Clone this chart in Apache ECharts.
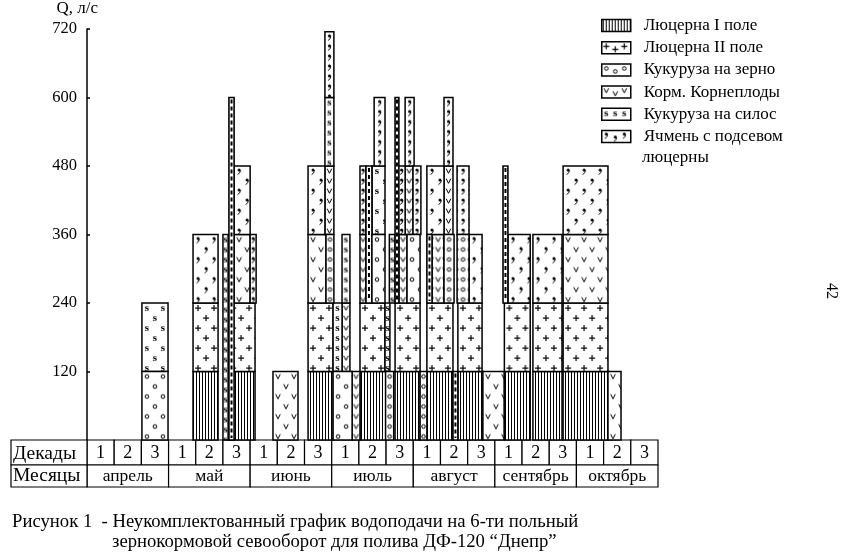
<!DOCTYPE html>
<html><head><meta charset="utf-8">
<script src="https://cdn.jsdelivr.net/npm/echarts@6/dist/echarts.min.js"></script>
<style>html,body{margin:0;padding:0;background:#fff}#c{width:849px;height:553px}</style>
</head><body><div id="c"></div>
<script>
const FONT = '"Liberation Serif","Times New Roman",serif';

// ---- data ----
const yMax = 720, yStep = 120;
const decadeLabels = ['1','2','3','1','2','3','1','2','3','1','2','3','1','2','3','1','2','3','1','2','3'];
const months = ['апрель','май','июнь','июль','август','сентябрь','октябрь'];
const headerLabels = ['Декады','Месяцы'];
const cropNames = ['Люцерна I поле','Люцерна II поле','Кукуруза на зерно','Корм. Корнеплоды','Кукуруза на силос','Ячмень с подсевом люцерны'];
const captionLine1 = 'Рисунок 1  - Неукомплектованный график водоподачи на 6-ти польный';
const captionLine2 = 'зернокормовой севооборот для полива ДФ-120 “Днепр”';
const pageNumber = '42';

// each item: [start (decade index), end (decade index), Q from, Q to]  (Q in l/s)
const lucerne1 = [[3.90,4.82,0,120],[5.19,6.18,0,120],[8.13,9.05,0,120],[10.04,11.0,0,120],[11.33,12.25,0,120],
  [12.50,13.46,0,120],[13.64,14.56,0,120],[15.35,16.30,0,120],[16.40,17.47,0,120],[17.51,19.16,0,120]];
const lucerne2 = [[3.90,4.82,120,240],[5.19,6.18,120,240],[8.13,9.05,120,240],[10.04,10.96,120,240],[11.33,12.25,120,240],
  [12.50,13.46,120,240],[13.64,14.53,120,240],[15.35,16.30,120,240],[16.40,17.47,120,240],[17.51,19.16,120,240]];
const cornGrain = [[2.02,2.98,0,120],[9.05,9.75,0,120],[10.98,11.28,0,120],[12.25,12.50,0,120],[13.46,13.64,0,120],
  [5.22,5.41,0,600],[8.79,9.08,240,360],[10.26,10.48,240,480],[10.48,10.96,240,360],[11.77,12.25,240,360],
  [11.33,11.47,240,600],[12.50,12.69,240,360],[13.13,13.50,240,360],[13.61,14.05,240,360],[15.30,15.48,240,480]];
const rootCrops = [[6.84,7.76,0,120],[9.75,10.04,0,120],[9.38,9.67,120,240],[5.41,6.0,240,360],[8.13,8.79,240,360],
  [8.75,9.08,360,480],[10.04,10.26,240,360],[11.47,11.77,240,360],[11.70,11.99,360,480],[12.69,13.13,240,360],
  [13.13,13.46,360,480],[14.56,15.34,0,120],[17.51,19.16,240,360],[19.16,19.64,0,120]];
const cornSilage = [[2.02,2.98,120,240],[5.0,5.19,0,360],[9.05,9.38,120,240],[9.38,9.67,240,360],[8.75,9.08,480,600],
  [10.48,10.96,360,480],[10.96,11.14,120,240],[11.12,11.33,240,360]];
const barley = [[3.90,4.82,240,360],[6.0,6.22,240,360],[5.41,6.0,360,480],[8.13,8.75,360,480],[8.75,9.08,600,715],
  [10.04,10.26,360,480],[10.56,10.96,480,600],[11.44,11.70,360,480],[11.70,12.03,480,600],[11.99,12.28,360,480],
  [12.50,13.13,360,480],[13.13,13.46,480,600],[13.61,14.05,360,480],[14.05,14.53,240,360],[15.48,16.30,240,360],
  [16.40,17.47,240,360],[17.51,19.16,360,480]];

// ---- hatch tiles ----
function tile(w, h, draw) {
  const c = document.createElement('canvas'); c.width = w; c.height = h;
  const g = c.getContext('2d');
  g.fillStyle = '#fff'; g.fillRect(0, 0, w, h);
  g.fillStyle = '#000'; g.strokeStyle = '#000'; g.lineWidth = 1;
  draw(g); return c;
}
const glyph = {
  lines: g => { g.fillRect(1, 0, 1, 4); },
  plus: (g, x, y) => { g.fillRect(x - 3, y - 0.5, 6, 1.2); g.fillRect(x - 0.6, y - 3, 1.2, 6); },
  circle: (g, x, y) => { g.beginPath(); g.arc(x, y, 1.8, 0, Math.PI * 2); g.stroke(); },
  vee: (g, x, y) => { g.beginPath(); g.moveTo(x - 2.3, y - 2.3); g.lineTo(x, y + 2.3); g.lineTo(x + 2.3, y - 2.3); g.stroke(); },
  ess: (g, x, y) => { g.font = 'bold 11px "Liberation Serif"'; g.textAlign = 'center'; g.textBaseline = 'middle'; g.fillText('s', x, y); },
  comma: (g, x, y) => { g.beginPath(); g.arc(x, y - 1, 1.5, 0, Math.PI * 2); g.fill();
    g.beginPath(); g.moveTo(x + 1.3, y - 0.8); g.quadraticCurveTo(x + 1.4, y + 2.2, x - 1.4, y + 3.5); g.stroke(); }
};
function glyphTiles(fn) {
  return {
    wide: tile(16, 20, g => { fn(g, 4, 5); fn(g, 12, 15); }),
    narrow: tile(7, 10, g => { fn(g, 3.5, 5); })
  };
}
const tiles = {
  l1: { wide: tile(3, 4, glyph.lines), narrow: tile(3, 4, glyph.lines) },
  l2: glyphTiles(glyph.plus),
  kz: glyphTiles(glyph.circle),
  kk: glyphTiles(glyph.vee),
  ks: glyphTiles(glyph.ess),
  ya: glyphTiles(glyph.comma)
};

function barRender(kind) {
  return function (params, api) {
    const a = api.coord([api.value(0), api.value(3)]);
    const b = api.coord([api.value(1), api.value(2)]);
    const rx = a[0], ry = a[1], w = b[0] - a[0], h = b[1] - a[1];
    if (kind === 'kz' && w < 6.5) {
      return { type: 'group', children: [
        { type: 'rect', shape: { x: rx, y: ry, width: w, height: h }, style: { fill: '#fff', stroke: '#000', lineWidth: 1.6 } },
        { type: 'line', shape: { x1: rx + w / 2, y1: ry + 2, x2: rx + w / 2, y2: ry + h - 2 },
          style: { stroke: '#000', lineWidth: 2, lineDash: [4, 3] } }
      ] };
    }
    const narrow = w < 12;
    const img = narrow ? tiles[kind].narrow : tiles[kind].wide;
    const ox = kind === 'l1' ? 0 : (narrow ? rx + w / 2 - 3.5 : rx + 1);
    const oy = kind === 'l1' ? 0 : ry;
    return { type: 'rect', shape: { x: rx, y: ry, width: w, height: h },
      style: { fill: { image: img, repeat: 'repeat', x: ox, y: oy }, stroke: '#000', lineWidth: 1.5 } };
  };
}

const cropData = [lucerne1, lucerne2, cornGrain, rootCrops, cornSilage, barley];
const cropKinds = ['l1', 'l2', 'kz', 'kk', 'ks', 'ya'];
const legendTile = fn => tile(18, 12, g => { fn(g, 4.5, 4.5); fn(g, 13.5, 7.5); });
const legendTiles = {
  l1: tiles.l1.wide,
  l2: legendTile(glyph.plus), kz: legendTile(glyph.circle), kk: legendTile(glyph.vee),
  ks: tile(18, 12, g => { glyph.ess(g, 4.5, 5.5); glyph.ess(g, 13.5, 5.5); }),
  ya: legendTile(glyph.comma)
};
const cropSeries = cropData.map((d, i) => ({
  type: 'custom', name: cropNames[i], data: d, encode: { x: [0, 1], y: [2, 3] },
  renderItem: barRender(cropKinds[i]), z: cropKinds[i] === 'kz' ? 4 : 3, silent: true,
  itemStyle: { color: { image: legendTiles[cropKinds[i]], repeat: 'repeat' }, borderColor: '#000', borderWidth: 1.5 }
}));

// ---- table under the axis ----
const ROW1 = 25, ROW2 = 22;
const cellStyle = { fill: '#fff', stroke: '#000', lineWidth: 1.2 };
const txt = (t, x, y, align, size) => ({ type: 'text', style: { text: t, x: x, y: y, align: align || 'center', verticalAlign: 'middle',
  fontFamily: FONT, fontSize: size || 17, fill: '#000' } });
const tableSeries = [
  { type: 'custom', silent: true, z: 2, data: decadeLabels.map((t, i) => [i, 0]), encode: { x: 0, y: 1 },
    renderItem: (p, api) => {
      const i = api.value(0), a = api.coord([i, 0]), b = api.coord([i + 1, 0]);
      return { type: 'group', children: [
        { type: 'rect', shape: { x: a[0], y: a[1], width: b[0] - a[0], height: ROW1 }, style: cellStyle },
        txt(decadeLabels[i], (a[0] + b[0]) / 2, a[1] + ROW1 / 2 + 1, 'center', 18)
      ] };
    } },
  { type: 'custom', silent: true, z: 2, data: months.map((t, i) => [i * 3, 0]), encode: { x: 0, y: 1 },
    renderItem: (p, api) => {
      const s = api.value(0), a = api.coord([s, 0]), b = api.coord([s + 3, 0]);
      return { type: 'group', children: [
        { type: 'rect', shape: { x: a[0], y: a[1] + ROW1, width: b[0] - a[0], height: ROW2 }, style: cellStyle },
        txt(months[p.dataIndex], (a[0] + b[0]) / 2, a[1] + ROW1 + ROW2 / 2, 'center', 17.5)
      ] };
    } },
  { type: 'custom', silent: true, z: 2, data: [[0, 0]], encode: { x: 0, y: 1 },
    renderItem: (p, api) => {
      const a = api.coord([0, 0]), x0 = 11;
      return { type: 'group', children: [
        { type: 'rect', shape: { x: x0, y: a[1], width: a[0] - x0, height: ROW1 }, style: cellStyle },
        { type: 'rect', shape: { x: x0, y: a[1] + ROW1, width: a[0] - x0, height: ROW2 }, style: cellStyle },
        txt(headerLabels[0], x0 + 2, a[1] + ROW1 / 2 + 1, 'left', 19.5),
        txt(headerLabels[1], x0 + 2, a[1] + ROW1 + ROW2 / 2, 'left', 19.5)
      ] };
    } }
];

const capStyle = { fontFamily: FONT, fontSize: 18.7, fontWeight: 'normal', color: '#000' };
const chart = echarts.init(document.getElementById('c'));
chart.setOption({
  animation: false,
  backgroundColor: '#fff',
  title: [
    { text: captionLine1, left: 12, top: 513, padding: 0, textStyle: capStyle },
    { text: captionLine2, left: 112, top: 533, padding: 0, textStyle: capStyle }
  ],
  grid: { left: 87, width: 571, top: 29, bottom: 113, containLabel: false },
  xAxis: { type: 'value', min: 0, max: 21, show: false },
  yAxis: {
    type: 'value', min: 0, max: yMax, interval: yStep,
    name: 'Q, л/с', nameLocation: 'end', nameGap: 12,
    nameTextStyle: { fontFamily: FONT, fontSize: 17, color: '#000', align: 'right', padding: [0, -11, 0, 0] },
    axisLine: { show: true, lineStyle: { color: '#000', width: 1.5 } },
    axisTick: { show: true, inside: true, length: 3, lineStyle: { color: '#000', width: 1.5 } },
    axisLabel: { color: '#000', fontFamily: FONT, fontSize: 16.5, margin: 10, showMinLabel: false,
      formatter: v => (v === 0 ? '' : String(v)) },
    splitLine: { show: false }
  },
  legend: {
    orient: 'vertical', left: 601, top: 17, padding: 0, icon: 'rect', itemWidth: 29, itemHeight: 12, itemGap: 5.2,
    selectedMode: false, data: cropNames,
    formatter: n => n === cropNames[5] ? 'Ячмень с подсевом' : n,
    itemStyle: { borderColor: '#000', borderWidth: 1.5 },
    textStyle: { fontFamily: FONT, fontSize: 17, color: '#000', lineHeight: 16, padding: [0, 0, 0, 8] }
  },
  graphic: [
    { type: 'text', left: 642, top: 149, style: { text: 'люцерны', fontFamily: FONT, fontSize: 17, fill: '#000' } },
    { type: 'text', x: 831, y: 291, rotation: -Math.PI / 2,
      style: { text: pageNumber, fontFamily: FONT, fontSize: 16, fill: '#000', align: 'center', verticalAlign: 'middle' } }
  ],
  series: cropSeries.concat(tableSeries)
});
</script>
</body></html>
